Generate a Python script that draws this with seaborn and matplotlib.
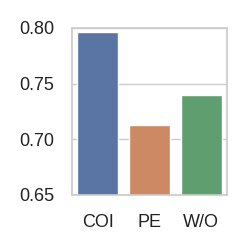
import matplotlib
matplotlib.use("Agg")
import matplotlib.pyplot as plt
import seaborn as sns
import pandas as pd

categories = ["COI", "PE", "W/O"]
values = [0.796, 0.713, 0.740]

sns.set_theme(style="whitegrid", palette="deep")
plt.rcParams['font.family'] = ['Liberation Sans', 'DejaVu Sans']

df = pd.DataFrame({"method": categories, "score": values})
fig = plt.figure(figsize=(2.49, 2.49), dpi=100)
ax = fig.add_axes([0.289, 0.217, 0.623, 0.671])
sns.barplot(data=df, x="method", y="score", hue="method", palette="deep", legend=False, ax=ax)
ax.set_ylim(0.65, 0.80)
ax.set_yticks([0.65, 0.70, 0.75, 0.80])
ax.set_yticklabels(["0.65", "0.70", "0.75", "0.80"])
ax.set_xlabel("")
ax.set_ylabel("")
ax.tick_params(labelsize=13, labelcolor="#222222")
ax.tick_params(axis="y", pad=7)
ax.tick_params(axis="x", pad=8)
fig.savefig("out.png", dpi=100)
